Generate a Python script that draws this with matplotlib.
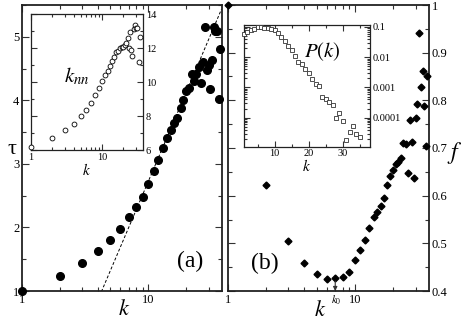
import numpy as np
import matplotlib
matplotlib.use('Agg')
import matplotlib.pyplot as plt
from matplotlib.ticker import MultipleLocator, FixedLocator, LogLocator, FuncFormatter, NullFormatter

plt.rcParams['font.family'] = ['Liberation Serif', 'DejaVu Serif']
plt.rcParams['mathtext.fontset'] = 'stix'

# (a) tau vs k
k_a = [1, 2, 3, 4, 5, 6, 7, 8, 9, 10, 11, 12, 13, 14, 15, 16, 17, 18, 19, 20,
       21, 22, 23, 24, 25, 26, 27, 28, 29, 30, 31, 32, 33, 34, 35, 36, 37]
tau = [1.00, 1.24, 1.44, 1.63, 1.80, 1.97, 2.16, 2.32, 2.48, 2.69, 2.89, 3.06, 3.25,
       3.41, 3.54, 3.64, 3.72, 3.88, 4.00, 4.15, 4.19, 4.41, 4.31, 4.41, 4.53, 4.28,
       4.61, 5.15, 4.47, 4.55, 4.18, 4.63, 5.16, 5.09, 5.09, 4.02, 4.80]
# fitted line tau = fit_a + fit_b * ln k
fit_a = -1.95
fit_b = 2.03

# inset (a): k_nn vs k
k_nn_k = [1, 2, 3, 4, 5, 6, 7, 8, 9, 10, 11, 12, 13, 14, 15, 16, 17, 18, 19, 20,
          21, 22, 23, 24, 25, 26, 27, 28, 29, 30, 31, 33, 35]
k_nn = [6.19, 6.72, 7.18, 7.51, 7.98, 8.33, 8.78, 9.24, 9.65, 10.08, 10.40, 10.67,
        10.96, 11.24, 11.49, 11.75, 11.85, 12.00, 12.05, 12.05, 12.15, 12.30, 12.60,
        12.02, 12.95, 11.88, 11.55, 13.10, 13.35, 13.20, 13.19, 11.20, 12.63]

# (b) f vs k
k_b = [1, 2, 3, 4, 5, 6, 7, 8, 9, 10, 11, 12, 13, 14, 15, 16, 17, 18, 19, 20,
       21, 22, 23, 24, 25, 26, 27, 28, 29, 30, 31, 32, 33, 34, 35, 36, 37]
f_b = [1.00, 0.622, 0.505, 0.458, 0.435, 0.425, 0.427, 0.429, 0.440, 0.465, 0.487,
       0.508, 0.533, 0.556, 0.566, 0.578, 0.596, 0.622, 0.642, 0.654, 0.666, 0.671,
       0.678, 0.711, 0.708, 0.647, 0.758, 0.713, 0.637, 0.762, 0.792, 0.941, 0.827,
       0.861, 0.789, 0.704, 0.851]
k0 = 7

# inset (b): P(k)
pk_k = list(range(1, 36))
pk = [0.0574, 0.0658, 0.0766, 0.0879, 0.0977, 0.0962, 0.0927, 0.0892, 0.0859, 0.0766,
      0.0610, 0.0450, 0.0332, 0.0236, 0.0174, 0.0105, 0.00716, 0.00587, 0.00411,
      0.00310, 0.00192, 0.00125, 0.00113, 4.79e-4, 4.21e-4, 3.27e-4, 2.67e-4, 9.4e-5,
      1.42e-4, 7.9e-5, 1.82e-5, 3.35e-5, 5.28e-5, 2.94e-5, 2.34e-5]

W, H = 463, 322
fig = plt.figure(figsize=(W / 100, H / 100), dpi=100)


def box(x0, y0, x1, y1):
    return [x0 / W, 1 - y1 / H, (x1 - x0) / W, (y1 - y0) / H]


def put(x, y, s, size, **kw):
    # x, y in pixels from the top-left corner
    fig.text(x / W, 1 - y / H, s, fontsize=size, ha='center', va='center', **kw)


gfmt = FuncFormatter(lambda v, p: '%g' % v)


def style(ax, lw, major, minor, size):
    for s in ax.spines.values():
        s.set_linewidth(lw)
        s.set_color('#222222')
    ax.tick_params(which='both', direction='in', top=True, right=True, labelsize=size,
                   pad=2, width=0.8, color='#333333')
    ax.tick_params(which='major', length=major)
    ax.tick_params(which='minor', length=minor)


# panel (a)
ax1 = fig.add_axes(box(22, 5, 221.5, 291))
ax1.plot(k_a, tau, 'o', color='black', ms=5.5, clip_on=False, zorder=3)
kk = np.linspace(1, 38, 200)
ax1.plot(kk, fit_a + fit_b * np.log(kk), '--', color='black', lw=0.7, dashes=(3, 2))
ax1.set_xscale('log')
ax1.set_xlim(1, 38)
ax1.set_ylim(1, 5.5)
ax1.yaxis.set_major_locator(MultipleLocator(1))
ax1.yaxis.set_minor_locator(MultipleLocator(0.5))
ax1.xaxis.set_major_formatter(gfmt)
ax1.xaxis.set_minor_formatter(NullFormatter())
style(ax1, 1.3, 5, 3, 9)

# panel (b)
ax2 = fig.add_axes(box(227.7, 5, 428.7, 291))
ax2.plot(k_b, f_b, 'D', color='black', ms=3.5, clip_on=False, zorder=3)
ax2.set_xscale('log')
ax2.set_xlim(1, 38)
ax2.set_ylim(0.4, 1.0)
ax2.yaxis.set_major_locator(MultipleLocator(0.1))
ax2.yaxis.set_minor_locator(MultipleLocator(0.05))
ax2.yaxis.set_major_formatter(gfmt)
ax2.xaxis.set_major_formatter(gfmt)
ax2.xaxis.set_minor_formatter(NullFormatter())
style(ax2, 1.3, 5, 3, 9)
ax2.tick_params(axis='y', labelleft=False, labelright=True)
ax2.annotate('', xy=(k0, 0.4), xytext=(k0, 0.421),
             arrowprops=dict(arrowstyle='-|>', color='#333333', lw=0.8,
                             mutation_scale=6, shrinkA=0, shrinkB=0))
ax2.annotate('$k_0$', xy=(k0, 0.4), xytext=(1, -2), textcoords='offset points',
             ha='center', va='top', fontsize=8)

# labels
put(12, 150, 'τ', 16)
put(124, 310, '$k$', 16)
put(320, 311, '$k$', 16)
put(455, 153, '$f$', 17)
put(190, 261, '(a)', 17)
put(265, 263, '(b)', 17)

# inset (a)
ax3 = fig.add_axes(box(31, 14, 143, 150))
ax3.plot(k_nn_k, k_nn, 'o', mfc='white', mec='black', mew=0.6, ms=3.5, clip_on=False, zorder=3)
ax3.set_xscale('log')
ax3.set_xlim(1, 38)
ax3.set_ylim(6, 14)
ax3.yaxis.set_major_locator(MultipleLocator(2))
ax3.yaxis.set_minor_locator(MultipleLocator(1))
ax3.xaxis.set_major_formatter(gfmt)
ax3.xaxis.set_minor_formatter(NullFormatter())
style(ax3, 0.9, 4, 2, 7.5)
ax3.tick_params(axis='y', labelleft=False, labelright=True)
ax3.set_xlabel('$k$', fontsize=11, labelpad=0)
put(77, 76, '$k_{nn}$', 15)

# inset (b)
ax4 = fig.add_axes(box(244, 25, 370, 146.7))
ax4.plot(pk_k, pk, 's', mfc='white', mec='#333333', mew=0.6, ms=3.5, clip_on=False, zorder=3)
ax4.set_yscale('log')
ax4.set_xlim(1, 38)
ax4.set_ylim(1.1e-5, 0.115)
ax4.xaxis.set_major_locator(MultipleLocator(10))
ax4.xaxis.set_minor_locator(MultipleLocator(5))
ax4.yaxis.set_major_locator(FixedLocator([1e-4, 1e-3, 1e-2, 1e-1]))
ax4.yaxis.set_minor_locator(LogLocator(base=10, subs=np.arange(2, 10), numticks=20))
ax4.yaxis.set_major_formatter(gfmt)
ax4.yaxis.set_minor_formatter(NullFormatter())
style(ax4, 0.9, 4, 2, 7.5)
ax4.tick_params(axis='y', labelleft=False, labelright=True)
ax4.set_xlabel('$k$', fontsize=11, labelpad=0)
put(322, 52, '$P(k)$', 15)

fig.savefig('out.png', dpi=100)
